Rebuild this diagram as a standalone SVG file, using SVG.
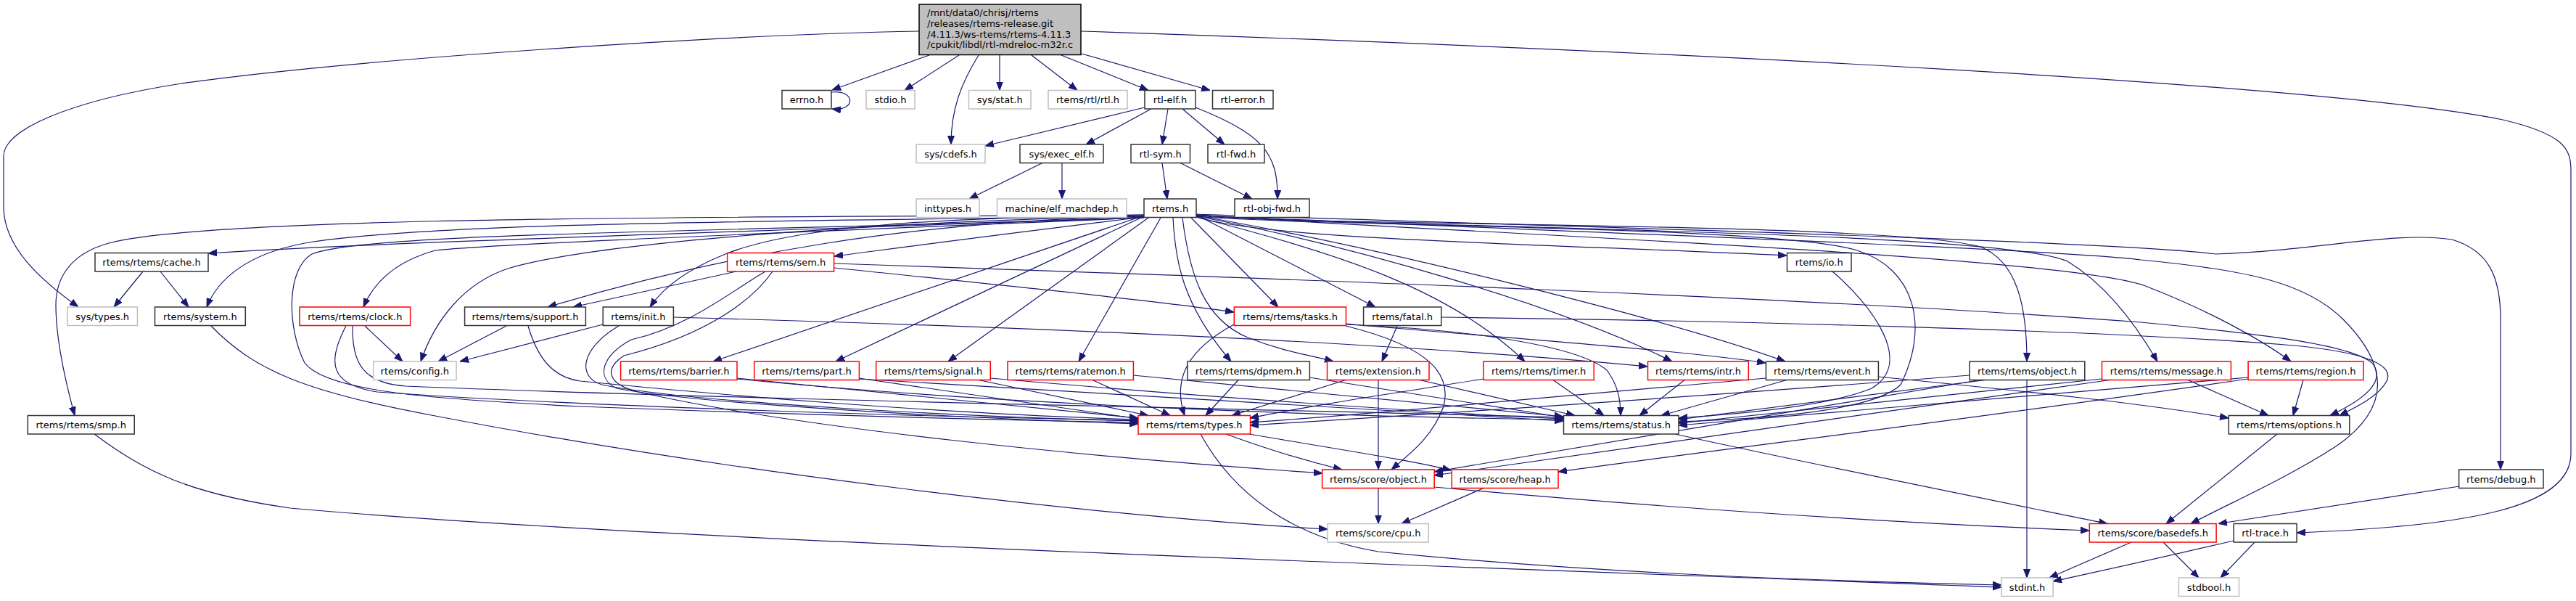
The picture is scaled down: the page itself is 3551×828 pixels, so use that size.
<svg xmlns="http://www.w3.org/2000/svg" width="3551" height="828" viewBox="0 0 3551 828">
<style>
rect{fill:#fff;stroke-width:1.5}
.b{stroke:#333}
.g{stroke:#bfbfbf}
.r{stroke:#f00}
.m{fill:#bfbfbf;stroke:#000}
text{font-family:"DejaVu Sans","Liberation Sans",sans-serif;font-size:13px;fill:#000;text-anchor:middle}
.ml{text-anchor:start}
#edges path{fill:none;stroke:#191970;stroke-width:1.2;marker-end:url(#ah)}
</style>
<defs>
<marker id="ah" markerWidth="12" markerHeight="10" refX="12" refY="5" orient="auto" markerUnits="userSpaceOnUse"><path d="M0,0.5 L12,5 L0,9.5 z" fill="#191970" stroke="#191970" stroke-width="1"/></marker>
</defs>
<rect x="0" y="0" width="3551" height="828" style="fill:#fff;stroke:none"/>
<g id="edges">
<path d="M1267,43 C1000,48 500,80 250,115 C90,140 5,180 5,215 L5,285 C5,340 55,385 108,423"/>
<path d="M1281,76 L1147,124"/>
<path d="M1146,127 C1180,123 1180,154 1147,150"/>
<path d="M1322,76 L1247,124.5"/>
<path d="M1349,76 C1325,115 1311,150 1311,199"/>
<path d="M1378,76 L1378,124.5"/>
<path d="M1422,76 L1485,124.5"/>
<path d="M1463,76 L1583,124.5"/>
<path d="M1491,74 L1668,124.5"/>
<path d="M1490,43 C2300,70 3200,115 3450,165 C3535,185 3544,205 3544,235 L3544,625 C3544,700 3400,725 3166,734"/>
<path d="M1578,148 L1358,201"/>
<path d="M1587,150 L1497,199"/>
<path d="M1610,150 L1602,199"/>
<path d="M1630,150 L1688,199"/>
<path d="M1648,148 C1740,185 1762,210 1761,274"/>
<path d="M1437,224.5 L1336,274"/>
<path d="M1464,224.5 L1464,274"/>
<path d="M1602,224.5 L1609,274"/>
<path d="M1627,224.5 L1726,274"/>
<path d="M1577,296 C1100,300 300,295 150,335 C95,350 77,385 77,420 C77,470 90,525 103,572.5"/>
<path d="M1577,298 C1100,305 600,305 420,335 C340,350 300,385 285,423"/>
<path d="M1577,299 C1100,318 600,330 287,349"/>
<path d="M1577,300 C1100,320 700,335 600,345 C545,360 515,390 501,423"/>
<path d="M1577,300 C1000,320 500,320 430,350 C395,370 395,450 420,500 C450,540 600,550 800,560 C1200,575 1450,580 1569,582"/>
<path d="M1577,297 C1100,310 800,340 700,370 C640,390 600,440 580,498"/>
<path d="M1577,298 C1250,305 1000,350 755,423"/>
<path d="M1577,296 C1300,300 1100,310 1000,350 C950,370 915,395 896,423"/>
<path d="M1577,299 C1400,320 1250,340 1150,353"/>
<path d="M1577,297 L983,498"/>
<path d="M1577,298 L1152,498"/>
<path d="M1583,300 L1307,498"/>
<path d="M1600,300 L1487,498"/>
<path d="M1617,300 C1620,360 1630,420 1697,498"/>
<path d="M1630,300 C1640,380 1660,440 1720,465 C1770,485 1810,490 1838,498"/>
<path d="M1642,300 L1762,423"/>
<path d="M1649,296 L1896,423"/>
<path d="M1649,299 C1850,350 2000,400 2102,498"/>
<path d="M1649,298 C1850,335 2150,420 2305,498"/>
<path d="M1649,297 C1900,340 2300,440 2461,498"/>
<path d="M1649,299 C1750,330 2100,335 2463,352"/>
<path d="M1649,298 C1800,312 2450,310 2560,345 C2640,370 2660,450 2620,530 C2580,570 2400,578 2314,581"/>
<path d="M2526,374 C2580,420 2640,500 2580,535 C2520,560 2400,570 2314,576"/>
<path d="M1649,297 C1800,312 2600,305 2730,340 C2780,360 2794,420 2794,498"/>
<path d="M1649,296 C1850,314 2750,315 2850,360 C2900,390 2940,440 2974,498"/>
<path d="M1649,296 C1900,316 2850,350 2960,395 C3050,430 3120,470 3158,498"/>
<path d="M1649,295 C1900,305 2900,330 3054,350 C3200,345 3300,318 3380,330 C3430,345 3447,380 3447,440 L3447,647"/>
<path d="M1649,296 C1900,310 2800,340 2951,358 C3100,372 3180,390 3230,440 C3290,500 3300,560 3220,615 C3150,660 3080,690 3020,721.5"/>
<path d="M1150,363 C1800,385 2500,410 2951,444 C3120,460 3240,475 3270,500 C3290,525 3260,550 3212,572.5"/>
<path d="M1987,437 C2400,442 2900,455 3150,475 C3270,485 3300,505 3290,525 C3280,545 3250,560 3225,572.5"/>
<path d="M1150,369 C1400,395 1600,415 1701,430"/>
<path d="M1015,374 L790,423"/>
<path d="M1055,374 C1010,400 950,450 870,468 C830,490 820,520 850,535 C950,555 1300,575 1569,584"/>
<path d="M1065,374 C1040,410 980,460 860,490 C830,510 840,530 880,540 C1100,590 1500,630 1823,652"/>
<path d="M831,447 L634,498"/>
<path d="M853,449 C800,480 795,520 830,530 C950,555 1350,575 1569,580"/>
<path d="M928,437 C1400,450 1900,470 2271,505"/>
<path d="M698,449 L604,498"/>
<path d="M728,449 C740,490 760,520 800,525 C1000,545 1300,570 1569,578"/>
<path d="M503,449 L555,498"/>
<path d="M477,449 C450,500 455,530 520,540 C800,560 1300,575 1569,579"/>
<path d="M486,449 C485,500 500,528 560,532 C1000,550 1800,565 2155,575"/>
<path d="M291,449 C350,510 420,540 600,573 C1000,650 1500,710 1830,729"/>
<path d="M130,598 C200,650 260,680 400,700 C900,745 2000,780 2759,809"/>
<path d="M1655,598 C1700,680 1780,740 1900,760 C2200,790 2500,800 2759,806"/>
<path d="M197,374 L157,423"/>
<path d="M221,374 L260,423"/>
<path d="M1016,521 L1569,576"/>
<path d="M1016,522 C1400,560 1900,575 2155,578"/>
<path d="M1184,521 L1569,577"/>
<path d="M1184,522 L2155,580"/>
<path d="M1349,523.5 L1583,572.5"/>
<path d="M1365,521 C1700,550 2000,570 2155,577"/>
<path d="M1506,523.5 L1613,572.5"/>
<path d="M1562,517 L2155,574"/>
<path d="M1707,523.5 L1662,572.5"/>
<path d="M1805,520 L2155,575"/>
<path d="M1855,523.5 L1698,572.5"/>
<path d="M1957,523.5 L2171,572.5"/>
<path d="M1900,523.5 L1900,647"/>
<path d="M1701,447 C1640,480 1615,520 1633,572.5"/>
<path d="M1855,447 C2050,455 2180,480 2215,510 C2230,530 2234,550 2234,572.5"/>
<path d="M1855,449 C1980,480 2000,520 1990,560 C1975,600 1950,620 1918,647"/>
<path d="M1855,446 C2000,460 2300,480 2434,500"/>
<path d="M1926,449 L1905,498"/>
<path d="M2141,523.5 L2211,572.5"/>
<path d="M2045,522 C1900,545 1800,560 1723,576"/>
<path d="M2322,523.5 L2260,572.5"/>
<path d="M2463,523.5 L2290,572.5"/>
<path d="M2434,521 C2100,550 1900,570 1723,582"/>
<path d="M2589,519 C2800,540 2950,555 3072,576"/>
<path d="M2715,517 C2300,550 1900,575 1723,586"/>
<path d="M2737,523.5 L2314,578"/>
<path d="M2729,523.5 C2400,580 2100,630 1977,650"/>
<path d="M2794,523.5 L2794,796"/>
<path d="M3016,523.5 L3127,572.5"/>
<path d="M2897,522 L2314,583"/>
<path d="M2908,523.5 L1977,655"/>
<path d="M3175,523.5 L3161,572.5"/>
<path d="M3099,520 L2314,586"/>
<path d="M3099,522 C2700,580 2400,615 2148,650"/>
<path d="M2309,598 C2500,640 2750,690 2905,721.5"/>
<path d="M3139,598 L2986,721.5"/>
<path d="M3390,670 L3058,721.5"/>
<path d="M1900,672.5 L1900,721.5"/>
<path d="M2045,672.5 L1932,721.5"/>
<path d="M1977,671 C2300,700 2600,720 2880,731"/>
<path d="M1690,598 C1750,620 1800,635 1850,647"/>
<path d="M1722,598 C1850,620 1950,635 2000,648"/>
<path d="M2938,747 L2825,796"/>
<path d="M2982,747 L3031,796"/>
<path d="M3079,745 C2950,775 2880,790 2830,801"/>
<path d="M3108,747 L3061,796"/>
</g>
<g id="n_main"><rect class="m" x="1267" y="6" width="223" height="69.5"/><text class="ml" x="1278" y="22">/mnt/data0/chrisj/rtems</text><text class="ml" x="1278" y="36.8">/releases/rtems-release.git</text><text class="ml" x="1278" y="51.6">/4.11.3/ws-rtems/rtems-4.11.3</text><text class="ml" x="1278" y="66.4">/cpukit/libdl/rtl-mdreloc-m32r.c</text></g>
<g id="n_errno"><rect class="b" x="1078" y="124.5" width="68" height="25.5"/><text x="1112" y="142">errno.h</text></g>
<g id="n_stdio"><rect class="g" x="1194" y="124.5" width="67" height="25.5"/><text x="1227.5" y="142">stdio.h</text></g>
<g id="n_stat"><rect class="g" x="1335.5" y="124.5" width="85.5" height="25.5"/><text x="1378.2" y="142">sys/stat.h</text></g>
<g id="n_rtl"><rect class="g" x="1445" y="124.5" width="109" height="25.5"/><text x="1499.5" y="142">rtems/rtl/rtl.h</text></g>
<g id="n_rtlelf"><rect class="b" x="1578" y="124.5" width="70" height="25.5"/><text x="1613" y="142">rtl-elf.h</text></g>
<g id="n_rtlerror"><rect class="b" x="1671.5" y="124.5" width="83.5" height="25.5"/><text x="1713.2" y="142">rtl-error.h</text></g>
<g id="n_cdefs"><rect class="g" x="1263" y="199" width="95" height="25.5"/><text x="1310.5" y="216.5">sys/cdefs.h</text></g>
<g id="n_execelf"><rect class="b" x="1406" y="199" width="115" height="25.5"/><text x="1463.5" y="216.5">sys/exec_elf.h</text></g>
<g id="n_rtlsym"><rect class="b" x="1559" y="199" width="81.5" height="25.5"/><text x="1599.7" y="216.5">rtl-sym.h</text></g>
<g id="n_rtlfwd"><rect class="b" x="1665" y="199" width="78" height="25.5"/><text x="1704" y="216.5">rtl-fwd.h</text></g>
<g id="n_inttypes"><rect class="g" x="1263" y="274" width="87" height="25.5"/><text x="1306.5" y="291.5">inttypes.h</text></g>
<g id="n_machdep"><rect class="g" x="1374.5" y="274" width="178.5" height="25.5"/><text x="1463.7" y="291.5">machine/elf_machdep.h</text></g>
<g id="n_rtems"><rect class="b" x="1577" y="274" width="72" height="25.5"/><text x="1613" y="291.5">rtems.h</text></g>
<g id="n_rtlobjfwd"><rect class="b" x="1702" y="274" width="103" height="25.5"/><text x="1753.5" y="291.5">rtl-obj-fwd.h</text></g>
<g id="n_cache"><rect class="b" x="131" y="348.5" width="156" height="25.5"/><text x="209" y="366">rtems/rtems/cache.h</text></g>
<g id="n_sem"><rect class="r" x="1002.6" y="348.5" width="147" height="25.5"/><text x="1076.1" y="366">rtems/rtems/sem.h</text></g>
<g id="n_io"><rect class="b" x="2463.5" y="348.5" width="88.5" height="25.5"/><text x="2507.7" y="366">rtems/io.h</text></g>
<g id="n_systypes"><rect class="g" x="93" y="423" width="96.4" height="25.5"/><text x="141.2" y="440.5">sys/types.h</text></g>
<g id="n_system"><rect class="b" x="213.5" y="423" width="124.8" height="25.5"/><text x="275.9" y="440.5">rtems/system.h</text></g>
<g id="n_clock"><rect class="r" x="413" y="423" width="152.6" height="25.5"/><text x="489.3" y="440.5">rtems/rtems/clock.h</text></g>
<g id="n_support"><rect class="b" x="640.6" y="423" width="166.8" height="25.5"/><text x="724" y="440.5">rtems/rtems/support.h</text></g>
<g id="n_init"><rect class="b" x="831.2" y="423" width="97.2" height="25.5"/><text x="879.8" y="440.5">rtems/init.h</text></g>
<g id="n_tasks"><rect class="r" x="1701.3" y="423" width="154.2" height="25.5"/><text x="1778.4" y="440.5">rtems/rtems/tasks.h</text></g>
<g id="n_fatal"><rect class="b" x="1879.6" y="423" width="107.2" height="25.5"/><text x="1933.2" y="440.5">rtems/fatal.h</text></g>
<g id="n_config"><rect class="g" x="514.7" y="498" width="114.3" height="25.5"/><text x="571.8" y="515.5">rtems/config.h</text></g>
<g id="n_barrier"><rect class="r" x="855.6" y="498" width="160.4" height="25.5"/><text x="935.8" y="515.5">rtems/rtems/barrier.h</text></g>
<g id="n_part"><rect class="r" x="1039.7" y="498" width="144.7" height="25.5"/><text x="1112" y="515.5">rtems/rtems/part.h</text></g>
<g id="n_signal"><rect class="r" x="1207.7" y="498" width="157.6" height="25.5"/><text x="1286.5" y="515.5">rtems/rtems/signal.h</text></g>
<g id="n_ratemon"><rect class="r" x="1389" y="498" width="173.4" height="25.5"/><text x="1475.7" y="515.5">rtems/rtems/ratemon.h</text></g>
<g id="n_dpmem"><rect class="b" x="1637" y="498" width="168.4" height="25.5"/><text x="1721.2" y="515.5">rtems/rtems/dpmem.h</text></g>
<g id="n_extension"><rect class="r" x="1829.5" y="498" width="140.5" height="25.5"/><text x="1899.7" y="515.5">rtems/extension.h</text></g>
<g id="n_timer"><rect class="r" x="2045" y="498" width="152.2" height="25.5"/><text x="2121.1" y="515.5">rtems/rtems/timer.h</text></g>
<g id="n_intr"><rect class="r" x="2271.5" y="498" width="138.8" height="25.5"/><text x="2340.9" y="515.5">rtems/rtems/intr.h</text></g>
<g id="n_event"><rect class="b" x="2434.4" y="498" width="155" height="25.5"/><text x="2511.9" y="515.5">rtems/rtems/event.h</text></g>
<g id="n_robject"><rect class="b" x="2715" y="498" width="158.8" height="25.5"/><text x="2794.4" y="515.5">rtems/rtems/object.h</text></g>
<g id="n_message"><rect class="r" x="2897.5" y="498" width="177.9" height="25.5"/><text x="2986.4" y="515.5">rtems/rtems/message.h</text></g>
<g id="n_region"><rect class="r" x="3099.1" y="498" width="158.9" height="25.5"/><text x="3178.5" y="515.5">rtems/rtems/region.h</text></g>
<g id="n_smp"><rect class="b" x="38.3" y="572.5" width="146.9" height="25.5"/><text x="111.7" y="590">rtems/rtems/smp.h</text></g>
<g id="n_types"><rect class="r" x="1569" y="572.5" width="154.5" height="25.5"/><text x="1646.2" y="590">rtems/rtems/types.h</text></g>
<g id="n_status"><rect class="b" x="2155.5" y="572.5" width="158.5" height="25.5"/><text x="2234.7" y="590">rtems/rtems/status.h</text></g>
<g id="n_options"><rect class="b" x="3072.3" y="572.5" width="166.5" height="25.5"/><text x="3155.5" y="590">rtems/rtems/options.h</text></g>
<g id="n_sobject"><rect class="r" x="1822.6" y="647" width="154.6" height="25.5"/><text x="1899.9" y="664.5">rtems/score/object.h</text></g>
<g id="n_heap"><rect class="r" x="2001.3" y="647" width="146.7" height="25.5"/><text x="2074.6" y="664.5">rtems/score/heap.h</text></g>
<g id="n_debug"><rect class="b" x="3389.6" y="647" width="116.4" height="25.5"/><text x="3447.8" y="664.5">rtems/debug.h</text></g>
<g id="n_cpu"><rect class="g" x="1830.2" y="721.5" width="139" height="25.5"/><text x="1899.7" y="739">rtems/score/cpu.h</text></g>
<g id="n_basedefs"><rect class="r" x="2880.3" y="721.5" width="174.8" height="25.5"/><text x="2967.7" y="739">rtems/score/basedefs.h</text></g>
<g id="n_rtltrace"><rect class="b" x="3079.2" y="721.5" width="86.9" height="25.5"/><text x="3122.6" y="739">rtl-trace.h</text></g>
<g id="n_stdint"><rect class="g" x="2759" y="796" width="71.2" height="25.5"/><text x="2794.6" y="813.5">stdint.h</text></g>
<g id="n_stdbool"><rect class="g" x="3003.4" y="796" width="83.1" height="25.5"/><text x="3045" y="813.5">stdbool.h</text></g>
</svg>
